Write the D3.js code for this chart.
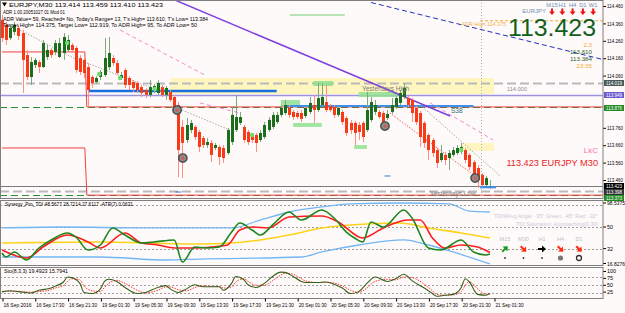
<!DOCTYPE html>
<meta charset="utf-8" />
<title>EURJPY M30</title>
<style>
  body { margin: 0; background: #fff; }
  svg { display: block; }
  text { font-family: "Liberation Sans", Arial, sans-serif; }
</style>
<body>
<svg width="625" height="313"></svg>
<script src="https://d3js.org/d3.v7.min.js"></script>
<script>
// ---------- data ----------
// M30 bars from 16 Sep 13:30, [open, high, low, close]
const candles = [
  [114.380,114.408,114.253,114.276],[114.351,114.368,114.236,114.265],[114.276,114.351,114.265,114.334],
  [114.311,114.368,114.293,114.351],[114.334,114.351,114.265,114.288],[114.305,114.322,113.960,114.150],
  [114.178,114.207,114.035,114.052],[114.052,114.167,114.006,114.138],[114.121,114.161,114.104,114.150],
  [114.138,114.150,114.075,114.109],[114.109,114.265,114.104,114.247],[114.167,114.236,114.150,114.207],
  [114.207,114.219,114.161,114.178],[114.196,114.265,114.178,114.247],[114.167,114.276,114.161,114.247],
  [114.190,114.305,114.150,114.282],[114.207,114.293,114.196,114.265],[114.236,114.247,114.190,114.207],
  [114.219,114.230,114.075,114.092],[114.161,114.178,114.063,114.081],[114.150,114.161,114.046,114.075],
  [114.109,114.132,113.880,113.977],[114.052,114.063,113.989,114.017],[114.023,114.058,114.012,114.046],
  [114.052,114.092,114.035,114.081],[114.063,114.276,114.052,114.161],[114.109,114.282,114.092,114.190],
  [114.161,114.178,114.115,114.132],[114.132,114.150,114.063,114.075],[114.046,114.081,114.035,114.063],
  [114.092,114.104,113.989,114.006],[114.046,114.058,113.977,114.006],[114.023,114.035,113.966,113.989],
  [114.017,114.029,113.960,113.977],[113.994,114.006,113.937,113.960],[113.977,113.989,113.931,113.949],
  [113.949,114.035,113.937,113.994],[113.977,114.012,113.960,114.000],[113.960,114.035,113.949,114.017],
  [113.994,114.006,113.937,113.949],[113.949,114.000,113.920,113.989],[113.966,113.977,113.908,113.920],
  [113.937,113.949,113.868,113.880],[113.891,113.908,113.477,113.632],[113.765,113.805,113.471,113.673],
  [113.690,113.816,113.673,113.776],[113.747,113.805,113.730,113.788],[113.765,113.776,113.690,113.707],
  [113.736,113.747,113.621,113.650],[113.701,113.713,113.644,113.661],[113.661,113.701,113.644,113.678],
  [113.673,113.690,113.563,113.604],[113.644,113.673,113.632,113.661],[113.650,113.661,113.546,113.592],
  [113.644,113.661,113.558,113.586],[113.615,113.759,113.604,113.747],[113.678,113.880,113.661,113.834],
  [113.747,113.949,113.736,113.822],[113.788,113.851,113.776,113.822],[113.765,113.776,113.673,113.690],
  [113.736,113.747,113.661,113.678],[113.719,113.730,113.673,113.690],[113.719,113.730,113.621,113.673],
  [113.690,113.747,113.678,113.730],[113.707,113.793,113.696,113.776],[113.747,113.822,113.736,113.805],
  [113.765,113.851,113.753,113.834],[113.793,113.851,113.782,113.834],[113.834,113.891,113.822,113.874],
  [113.845,113.920,113.834,113.891],[113.874,113.891,113.816,113.834],[113.851,113.862,113.805,113.822],
  [113.845,113.857,113.811,113.822],[113.845,113.862,113.793,113.811],[113.828,113.885,113.816,113.874],
  [113.851,113.937,113.839,113.903],[113.891,113.949,113.788,113.862],[113.862,114.017,113.851,113.931],
  [113.891,114.017,113.880,113.937],[113.908,114.006,113.851,113.862],[113.885,113.897,113.851,113.862],
  [113.880,113.891,113.816,113.834],[113.834,113.885,113.822,113.874],[113.851,113.862,113.776,113.793],
  [113.816,113.828,113.713,113.730],[113.788,113.805,113.724,113.747],[113.788,113.799,113.661,113.730],
  [113.776,113.793,113.690,113.736],[113.788,113.799,113.678,113.707],[113.747,113.966,113.736,113.862],
  [113.805,113.937,113.793,113.908],[113.851,113.920,113.834,113.891],[113.851,113.862,113.811,113.822],
  [113.845,113.857,113.776,113.793],[113.816,113.862,113.805,113.839],[113.851,113.931,113.839,113.891],
  [113.880,113.943,113.868,113.931],[113.903,113.977,113.891,113.960],[113.937,114.017,113.926,113.989],
  [113.931,113.943,113.880,113.891],[113.920,113.931,113.793,113.845],[113.874,113.885,113.776,113.793],
  [113.845,113.857,113.650,113.707],[113.788,113.799,113.644,113.673],[113.719,113.730,113.575,113.632],
  [113.690,113.701,113.592,113.615],[113.632,113.644,113.529,113.558],[113.575,113.661,113.563,113.615],
  [113.604,113.621,113.546,113.575],[113.586,113.632,113.517,113.615],[113.604,113.650,113.592,113.632],
  [113.615,113.661,113.604,113.644],[113.621,113.673,113.609,113.650],[113.632,113.644,113.558,113.575],
  [113.604,113.615,113.517,113.535],[113.563,113.575,113.471,113.489],[113.529,113.546,113.414,113.460],
  [113.489,113.500,113.420,113.431],[113.431,113.483,113.420,113.471],[113.414,113.459,113.410,113.423]
];

const timeTicks = [0, 8, 16, 24, 32, 40, 48, 56, 64, 72, 80, 88, 96, 104, 112, 120];
const timeLabels = ["16 Sep 2016", "16 Sep 17:30", "16 Sep 21:30", "19 Sep 01:30", "19 Sep 05:30",
  "19 Sep 09:30", "19 Sep 13:30", "19 Sep 17:30", "19 Sep 21:30", "20 Sep 01:30", "20 Sep 05:30",
  "20 Sep 09:30", "20 Sep 13:30", "20 Sep 17:30", "20 Sep 21:30", "21 Sep 01:30"];

const priceTicks = [114.46, 114.36, 114.26, 114.16, 114.06, 113.76, 113.66, 113.56, 113.46];

// horizontal levels: yesterday high, pivot, S38 area, current price, yesterday low, today low
const levelPrices = [114.019, 113.949, 113.880, 113.426, 113.398, 113.373];
const adrHigh = 114.375;
// boxes on the price scale
const boxPrices = [114.019, 113.949, 113.876, 113.423, 113.398, 113.373];

// previous-day high/low steps [bar, price]
const dayHighStep = [[0, 114.196], [20.2, 114.196], [20.7, 113.880], [147, 113.880]];
const dayLowStep = [[0, 113.644], [20.2, 113.644], [20.7, 113.373], [147, 113.373]];

// drawn objects, [bar, price]
const purpleTrend = [[42.2, 114.494], [109.3, 113.828]];
const navyTrend = [[90, 114.48], [147, 114.15]];
const grayTrends = [
  [[4.4, 114.322], [19.8, 114.132]], [[20.7, 114.132], [41, 113.949]],
  [[43.9, 113.862], [55.6, 113.747]], [[102, 113.891], [121.5, 113.483]]
];
const redTrends = [[[94.6, 113.845], [116.1, 113.471]]];
const pinkTrends = [
  [[28.8, 114.322], [49.5, 114.063]], [[48.3, 113.903], [58, 113.845]], [[104.4, 113.903], [119.8, 113.690]]
];
const blueSegs = [[[21, 113.972], [67, 113.972]], [[69, 113.885], [115, 113.885]]];
const yellowZones = [[41, 120, 114.046, 113.954], [112.2, 120, 113.673, 113.627]];
const greenZones = [[68, 72.7, 113.920, 113.885], [71, 78, 113.788, 113.765], [75.9, 80.7, 114.029, 114.000],
  [85.9, 89, 113.661, 113.638], [87, 96.3, 113.966, 113.937]];
const greenDots = [[15.9, 114.247], [23.7, 114.069], [28.8, 114.046], [37.3, 113.983], [61, 113.719], [112, 113.632]];
const circleMarks = [[42.7, 113.862], [44.1, 113.586], [93.4, 113.770], [115.4, 113.471]];

// Synergy TDI lines, [bar, value]
const tdiGreen = [[0,28.3],[1,25],[3,29.2],[6,22.5],[9,32.5],[12,39.2],[16,45],[18,41.7],[21,30.8],[24,35],
  [27,49.2],[30,43.3],[34,36.7],[37,37.5],[42,39.2],[44,20.8],[47,33.3],[50,32.5],[53,33.3],[56,45.8],
  [58,53.3],[61,47.5],[63,43.3],[66,51.7],[70,62.5],[73,55.8],[78,64.2],[81,57.5],[84,45.8],[86,40.8],
  [88,37.5],[90,54.2],[93,50],[98,64.2],[100,57.5],[104,32.5],[107,30.8],[112,39.2],[115,29.2],[118,26.7],[119,27.6]];
const tdiRed = [[0,30.8],[6,24.2],[10,33.3],[16,43.3],[21,37.5],[24,32.5],[30,45],[34,36.7],[38,35],[42,32.5],
  [47,32.5],[51,33.3],[55,35],[58,47.5],[61,50],[65,49.2],[70,58.3],[78,59.2],[82,54.2],[88,40.8],[93,49.2],
  [99,55.8],[102,55.8],[105,40.8],[108,32.5],[112,35],[116,33.3],[119,28.7]];
const tdiUpper = [[0,49.2],[14,50],[36,49.2],[56,49.2],[63,55.8],[70,62.5],[78,66.7],[85,69.2],[97,70],
  [109,69.2],[114,63.3],[119,62.5]];
const tdiLower = [[0,25],[24,25],[40,22.5],[48,23.3],[73,25],[78,29.2],[87,35],[98,39.2],[104,35],[110,29.2],[119,19.2]];
const tdiMid = [[0,36.7],[24,37.5],[48,35.8],[56,36.7],[63,39.2],[70,43.3],[78,49.2],[85,51.7],[97,53.3],
  [104,49.2],[112,45],[119,40.8]];
const tdiLevels = [68, 50, 32];

// Stochastic (8,3,3), [bar, value]
const stoMain = [[0,24],[2,28],[4,25],[7,20],[9,30],[12,38],[13,45],[15,60],[16,78],[17,76],[19,55],[20,22],
  [22,18],[24,35],[25,62],[26,70],[28,62],[30,40],[33,18],[35,22],[38,40],[40,47],[41,35],[43,22],[45,35],
  [47,50],[49,43],[51,43],[53,43],[54,30],[56,55],[57,80],[59,68],[60,50],[62,40],[64,55],[66,80],[68,96],
  [69,95],[71,80],[73,62],[74,58],[77,58],[79,60],[81,52],[83,38],[85,18],[87,25],[89,55],[91,78],[94,62],
  [96,72],[98,88],[100,65],[103,38],[105,18],[106,8],[108,12],[110,15],[112,40],[113,72],[114,60],[116,15],
  [118,12],[119,19.5]];
const stoSignal = [[0,26],[2,26],[4,26],[7,23],[9,25],[12,32],[13,38],[15,48],[16,62],[17,72],[19,68],[20,45],
  [22,28],[24,25],[25,40],[26,55],[28,66],[30,55],[33,30],[35,20],[38,30],[40,42],[41,42],[43,32],[45,28],
  [47,40],[49,46],[51,44],[53,43],[54,38],[56,42],[57,60],[59,72],[60,62],[62,48],[64,48],[66,65],[68,85],
  [69,92],[71,88],[73,72],[74,64],[77,58],[79,59],[81,56],[83,46],[85,30],[87,22],[89,38],[91,62],[94,70],
  [96,68],[98,78],[100,76],[103,52],[105,28],[106,15],[108,12],[110,13],[112,25],[113,48],[114,62],[116,35],
  [118,16],[119,15.8]];
const stoLevels = [80, 50, 20];

const headerLines = [
  "EURJPY,M30  113.414 113.459 113.410 113.423",
  "ADR 1.00 20051027 01 Mod 01",
  "ADR Value= 59, Reached= No, Today's Range= 13, T's High= 113.610, T's Low= 113.384",
  "Target High= 114.375, Target Low= 112.919, To ADR High= 95, To ADR Low= 50"
];
const infoValues = ["2.3", "113.610", "113.384", "23:35"];
const tfNames = ["M15", "H1", "H4", "D1", "W1"];
const tdiTfNames = ["M15", "M30", "H1", "H4", "D1"];

// ---------- layout ----------
const W = 625, H = 313;
const plotR = 603;
const mainP = { top: 0, bottom: 198 };
const tdiP = { top: 200, bottom: 265 };
const stoP = { top: 267, bottom: 298 };
const FS = 5.4;

const svg = d3.select("svg");
svg.append("rect").attr("width", W).attr("height", H).attr("fill", "#fffafa");

const x = d3.scaleLinear().domain([0, 120]).range([2, 494]);
const y = d3.scaleLinear().domain([113.46, 114.46]).range([180, 6]);
const yT = d3.scaleLinear().domain([32, 50]).range([248.6, 227]);
const yS = d3.scaleLinear().domain([0, 100]).range([298.5, 271]);
const px = i => Math.round(x(i));

const defs = svg.append("defs");
[["cMain", mainP], ["cTdi", tdiP], ["cSto", stoP]].forEach(([id, p]) => {
  defs.append("clipPath").attr("id", id).append("rect")
    .attr("x", 0).attr("y", p.top).attr("width", plotR).attr("height", p.bottom - p.top);
});

const main = svg.append("g").attr("clip-path", "url(#cMain)");
const ptLine = d3.line().x(d => x(d[0])).y(d => y(d[1]));

// text helper, optional fixed width
const t = (g, xx, yy, s, size, fill, anchor, len) => {
  const el = g.append("text").attr("x", xx).attr("y", yy)
    .attr("font-size", size).attr("fill", fill).attr("text-anchor", anchor || "start").text(s);
  if (len) el.attr("textLength", len).attr("lengthAdjust", "spacingAndGlyphs");
  return el;
};

// zones
main.selectAll(".yz").data(yellowZones).join("rect")
  .attr("x", d => x(d[0])).attr("width", d => x(d[1]) - x(d[0]))
  .attr("y", d => y(d[2])).attr("height", d => y(d[3]) - y(d[2]))
  .attr("fill", "#fff6bf");

// levels
const levelStyles = [
  { c: "#b9b9b9", w: 2, dash: "9,4" }, { c: "#9d92e2", w: 1.6, dash: null },
  { c: "#2f8f2f", w: 1, dash: "7,4" }, { c: "#7a7a7a", w: 1, dash: null },
  { c: "#b9b9b9", w: 2, dash: "9,4" }, { c: "#2f8f2f", w: 1, dash: "7,4" }
];
main.selectAll(".lvl").data(levelPrices).join("line")
  .attr("x1", 0).attr("x2", plotR)
  .attr("y1", d => Math.round(y(d)) + 0.5).attr("y2", d => Math.round(y(d)) + 0.5)
  .attr("stroke", (d, i) => levelStyles[i].c)
  .attr("stroke-width", (d, i) => levelStyles[i].w)
  .attr("stroke-dasharray", (d, i) => levelStyles[i].dash);

// ADR high
main.append("line").attr("x1", x(116.6)).attr("x2", plotR)
  .attr("y1", y(adrHigh)).attr("y2", y(adrHigh))
  .attr("stroke", "#f2a83a").attr("stroke-dasharray", "3,2");

// previous day steps
[dayHighStep, dayLowStep].forEach(s => {
  main.append("path").attr("d", ptLine(s)).attr("fill", "none")
    .attr("stroke", "#f04040").attr("stroke-width", 1);
});
main.append("line").attr("x1", x(70.2)).attr("x2", x(83.6))
  .attr("y1", y(114.408)).attr("y2", y(114.408)).attr("stroke", "#9fdc9f").attr("stroke-width", 1.5);

// green zones
main.selectAll(".gz").data(greenZones).join("rect")
  .attr("x", d => x(d[0])).attr("width", d => x(d[1]) - x(d[0]))
  .attr("y", d => y(d[2])).attr("height", d => y(d[3]) - y(d[2]))
  .attr("fill", "#8fe08f").attr("opacity", 0.85);

// blue segments
main.selectAll(".bs").data(blueSegs).join("path")
  .attr("d", ptLine).attr("stroke", (d, i) => i ? "#3f8ff0" : "#1a6fe0")
  .attr("stroke-width", (d, i) => i ? 2 : 2.5).attr("fill", "none");

// trend lines
grayTrends.forEach(tr => main.append("path").attr("d", ptLine(tr)).attr("fill", "none")
  .attr("stroke", "#a8a8a8").attr("stroke-dasharray", "1.5,1.5"));
redTrends.forEach(tr => main.append("path").attr("d", ptLine(tr)).attr("fill", "none")
  .attr("stroke", "#f06060").attr("stroke-dasharray", "1.5,1.5"));
pinkTrends.forEach(tr => main.append("path").attr("d", ptLine(tr)).attr("fill", "none")
  .attr("stroke", "#f08ad0").attr("stroke-dasharray", "4,3"));
main.append("path").attr("d", ptLine(purpleTrend)).attr("fill", "none")
  .attr("stroke", "#7d3fe0").attr("stroke-width", 1.5);
main.append("path").attr("d", ptLine(navyTrend)).attr("fill", "none")
  .attr("stroke", "#2030c0").attr("stroke-dasharray", "5,3");

// day separator
main.append("line").attr("x1", px(117) - 0.5).attr("x2", px(117) - 0.5).attr("y1", 0).attr("y2", mainP.bottom)
  .attr("stroke", "#b0b0b0").attr("stroke-dasharray", "1,2");

// candles
const bull = d => d[3] >= d[0];
const cg = main.append("g");
cg.selectAll("line").data(candles).join("line")
  .attr("x1", (d, i) => px(i) + 0.5).attr("x2", (d, i) => px(i) + 0.5)
  .attr("y1", d => y(d[1])).attr("y2", d => y(d[2]))
  .attr("stroke", d => bull(d) ? "#7fa87f" : "#ff8f80");
cg.selectAll("rect").data(candles).join("rect")
  .attr("x", (d, i) => px(i) - 1).attr("width", 3)
  .attr("y", d => y(Math.max(d[0], d[3])))
  .attr("height", d => Math.max(1, Math.abs(y(d[0]) - y(d[3]))))
  .attr("fill", d => bull(d) ? "#1c6e1c" : "#f83a18");

// markers
main.selectAll(".gd").data(greenDots).join("circle")
  .attr("cx", d => x(d[0])).attr("cy", d => y(d[1])).attr("r", 2.2).attr("fill", "#6fdc6f");
const cm = main.selectAll(".cm").data(circleMarks).join("g")
  .attr("transform", d => `translate(${x(d[0])},${y(d[1])})`);
cm.append("circle").attr("r", 4.2).attr("fill", "#8c8c8c").attr("stroke", "#4a4a4a").attr("stroke-width", 1.4);
cm.append("circle").attr("r", 1.6).attr("fill", "#d85a4a");
main.append("line").attr("x1", x(116.6)).attr("x2", x(120.5)).attr("y1", y(113.418)).attr("y2", y(113.418))
  .attr("stroke", "#3f8ff0").attr("stroke-width", 2);
[[43, 113.391], [94, 113.483]].forEach(d => main.append("line")
  .attr("x1", x(d[0]) - 3).attr("x2", x(d[0]) + 3).attr("y1", y(d[1])).attr("y2", y(d[1]))
  .attr("stroke", "#3f6fe0").attr("stroke-width", 1));

// main texts
t(main, 362, 91, "Yesterdays High", 6.5, "#7a7a7a");
t(main, 430, 196, "Yesterdays Low", 6.5, "#7a7a7a");
t(main, 451, 113, "S38", 6.5, "#2b6a6a");
t(main, 507, 91, "114.000", 5.6, "#8a8a8a");
t(main, 598, 153, "LkC", 8, "#ff6fb0", "end");
t(main, 598, 166, "113.423  EURJPY M30", 9.2, "#e8231f", "end");

// header
svg.append("path").attr("d", "M2,2.5L7,2.5L4.5,6.5Z").attr("fill", "#000");
const headerX = [9, 3, 3, 3], headerW = [154, 62, 205, 194];
headerLines.forEach((s, i) => t(svg, headerX[i], 7 + i * 6.8, s, FS, "#000", "start", headerW[i]));

// top right info
t(svg, 506, 26, "ADR High 114.375", 5.4, "#f2b04a", "end");
t(svg, 596, 35.5, "113.423", 23, "#0f6020", "end", 88);
t(svg, 546, 13, "EURJPY", 6, "#6d8fb3", "end");
tfNames.forEach((s, i) => {
  const cx = 552 + i * 10.3;
  t(svg, cx, 6.5, s, 5.8, "#6d8fb3", "middle");
  svg.append("path").attr("d", `M${cx - 1},8.5 h2 v3 h2 l-3,3.5 l-3,-3.5 h2 Z`).attr("fill", "#ee1111");
});
infoValues.forEach((s, i) => {
  t(svg, 592, 46.5 + i * 7, s, 6.2, i === 0 || i === 3 ? "#f0a832" : "#1f5f1f", "end");
});

// price scale
const ax = svg.append("g").attr("transform", `translate(${plotR},0)`)
  .call(d3.axisRight(y).tickValues(priceTicks).tickFormat(d3.format(".3f")).tickSize(3));
ax.select(".domain").remove();
ax.selectAll("text").attr("font-size", FS).attr("font-family", "Liberation Sans, Arial").attr("x", 4)
  .attr("textLength", 16).attr("lengthAdjust", "spacingAndGlyphs");

const boxColors = ["#4a5a5a", "#6a5acd", "#228b22", "#000000", "#333333", "#228b22"];
let prevBox = -99;
boxPrices.forEach((p, i) => {
  const yy = Math.max(Math.round(y(p)), prevBox + 6);
  prevBox = yy;
  svg.append("rect").attr("x", plotR + 1).attr("y", yy - 3).attr("width", 20).attr("height", 6)
    .attr("fill", boxColors[i]);
  t(svg, plotR + 3, yy + 1.8, d3.format(".3f")(p), 4.9, "#fff", "start", 16);
});

// ---------- TDI panel ----------
const tdi = svg.append("g").attr("clip-path", "url(#cTdi)");
const tLine = d3.line().x(d => x(d[0])).y(d => yT(d[1])).curve(d3.curveMonotoneX);
tdi.selectAll(".tl").data(tdiLevels).join("line")
  .attr("x1", 0).attr("x2", plotR).attr("y1", d => Math.round(yT(d)) + 0.5).attr("y2", d => Math.round(yT(d)) + 0.5)
  .attr("stroke", "#9a9a9a").attr("stroke-dasharray", "2,2");
[[tdiUpper, "#72b6f5", 1.3], [tdiLower, "#72b6f5", 1.3], [tdiMid, "#ffd21a", 1.6],
 [tdiRed, "#ff1d1d", 1.6], [tdiGreen, "#1d861d", 1.6]].forEach(([d, c, w]) => {
  tdi.append("path").attr("d", tLine(d)).attr("fill", "none").attr("stroke", c).attr("stroke-width", w);
});
t(tdi, 5, 206, "Synergy_Pro_TDI 48.5677 28.7214 27.6117  -ATR(7) 0.0631", FS, "#000", "start", 128);
t(tdi, 598, 218, "TDIWAvg Angle: -35°  Green: -45°  Red: -32°", 5.6, "#c9c9d6", "end", 104);
t(tdi, 598, 226, "TDI Saturation: Approaching(0.30)", 5.6, "#c9c9d6", "end", 82);
tdiTfNames.forEach((s, i) => {
  t(tdi, 505 + i * 18.5, 241, s, 5.6, "#c0c0cc", "middle");
});
const arrowDirs = [[-45, "#1d9a1d"], [45, "#ff2a10"], [0, "#000"], [45, "#ff2a10"], [45, "#ff2a10"]];
arrowDirs.forEach(([a, c], i) => {
  tdi.append("path").attr("d", "M-4,-1 h4 v-2.5 l4,3.5 l-4,3.5 v-2.5 h-4 Z")
    .attr("transform", `translate(${505 + i * 18.5},249) rotate(${a})`).attr("fill", c);
});
[[505, 0.9, "#333"], [523.5, 0.9, "#333"], [542, 0.9, "#333"], [560.5, 2.6, "#777"]].forEach(([cx, r, c]) =>
  tdi.append("circle").attr("cx", cx).attr("cy", 258).attr("r", r).attr("fill", c));
tdi.append("circle").attr("cx", 579).attr("cy", 258).attr("r", 2.5).attr("fill", "none")
  .attr("stroke", "#333").attr("stroke-width", 1.3);

const tAx = svg.append("g").attr("transform", `translate(${plotR},0)`);
[[203, "98.5375", 18], [227, "50", 0], [248.6, "32", 0], [263.5, "16.8276", 18]].forEach(([yy, s, len]) => {
  tAx.append("line").attr("x1", 0).attr("x2", 3).attr("y1", yy).attr("y2", yy).attr("stroke", "#000");
  t(tAx, 4, yy + 2, s, FS, "#000", "start", len || null);
});

// ---------- Stochastic panel ----------
const sto = svg.append("g").attr("clip-path", "url(#cSto)");
const sLine = d3.line().x(d => x(d[0])).y(d => yS(d[1])).curve(d3.curveMonotoneX);
sto.selectAll(".sl").data(stoLevels).join("line")
  .attr("x1", 0).attr("x2", plotR).attr("y1", d => Math.round(yS(d)) + 0.5).attr("y2", d => Math.round(yS(d)) + 0.5)
  .attr("stroke", "#a0a0a0").attr("stroke-dasharray", "2,2");
sto.append("path").attr("d", sLine(stoSignal)).attr("fill", "none")
  .attr("stroke", "#ff3030").attr("stroke-dasharray", "1.5,1.2");
sto.append("path").attr("d", sLine(stoMain)).attr("fill", "none")
  .attr("stroke", "#35601a").attr("stroke-width", 1.1);
t(sto, 4, 273, "Sto(8,3,3) 19.4923 15.7941", FS, "#000", "start", 64);
const sAx = svg.append("g").attr("transform", `translate(${plotR},0)`)
  .call(d3.axisRight(yS).tickValues([100, 75, 50, 25]).tickSize(3));
sAx.select(".domain").remove();
sAx.selectAll("text").attr("font-size", FS).attr("font-family", "Liberation Sans, Arial").attr("x", 4);

// ---------- frames ----------
[mainP, tdiP, stoP].forEach(p => {
  svg.append("rect").attr("x", 0.5).attr("y", p.top + 0.5).attr("width", plotR - 0.5)
    .attr("height", p.bottom - p.top).attr("fill", "none").attr("stroke", "#7f7f7f");
});

// ---------- time axis ----------
const xa = svg.append("g").attr("transform", `translate(0,${stoP.bottom + 0.5})`)
  .call(d3.axisBottom(x).tickValues(timeTicks).tickFormat((d, i) => timeLabels[i]).tickSize(3));
xa.select(".domain").remove();
xa.selectAll("line").attr("transform", "translate(0.5,0)");
xa.selectAll("text").attr("font-size", FS).attr("font-family", "Liberation Sans, Arial")
  .attr("text-anchor", "start").attr("dx", 1).attr("y", 5)
  .attr("textLength", 28).attr("lengthAdjust", "spacingAndGlyphs");
</script>
</body>
